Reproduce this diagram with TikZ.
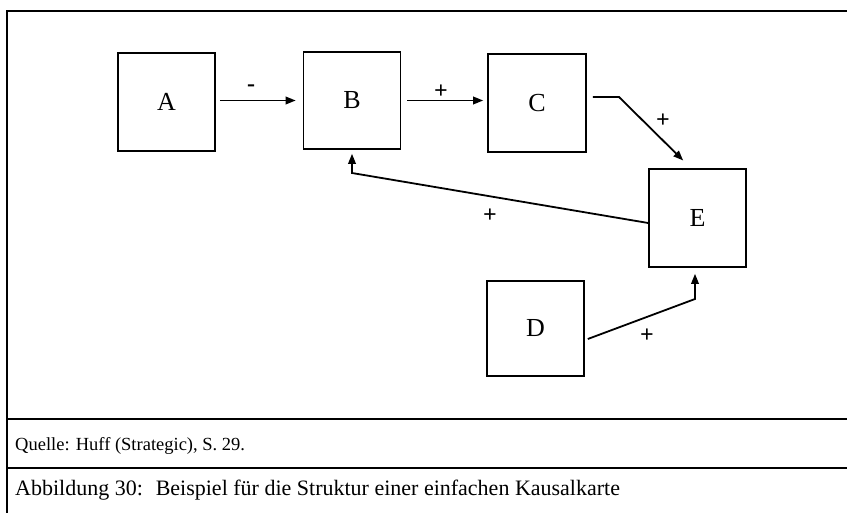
\documentclass[tikz,border=0pt]{standalone}
\usepackage{fontspec}
\setmainfont{Liberation Serif}
\usetikzlibrary{%
  arrows.meta,% Triangle tips
  positioning%
}

\begin{document}
\begin{tikzpicture}[x=1pt,y=-1pt,
box/.style={
	rectangle,
	draw=black,
	line width=1.6pt,
	minimum width=97pt,
	minimum height=97pt,
	inner sep=0pt,
	font=\fontsize{26}{28}\selectfont
	},link/.style={
	line width=1.8pt,
	-{Triangle[length=10pt,width=7.5pt]}
	},sign/.style={
	inner sep=0pt,
	font=\fontsize{24}{26}\selectfont\bfseries
	},framing/.style={
	line width=1.8pt
	},legend/.style={
	anchor=west,
	inner sep=0pt
	}
]

\useasboundingbox (0,0) rectangle (847,513);

% frame
\draw[framing] (847,11) -- (7,11) -- (7,513);
\draw[framing] (7,419) -- (847,419);
\draw[framing] (7,468) -- (847,468);

% boxes
\node (atomA) [box, minimum height=98pt] at (166.5,102) {A};
\node (atomB) [box] at (352,100.5) {B};
\node (atomC) [box, minimum width=98pt, minimum height=98pt] at (537,103) {C};
\node (atomE) [box, minimum height=98pt] at (697.5,218) {E};
\node (atomD) [box, minimum height=95pt] at (535.5,328.5) {D};

% bends
\coordinate (POSA) at (619,97);
\coordinate (POSB) at (352,173);
\coordinate (POSC) at (695,299);

\draw[link, shorten <=4pt, shorten >=7pt] (atomB.west -| atomA.east) -- (atomB.west);
\draw[link, shorten <=6pt, shorten >=4pt] (atomB.east) -- (atomB.east -| atomC.west);
\draw[link, shorten >=11pt] ([xshift=6pt, yshift=6pt]atomC.east) -- (POSA) -- ([xshift=-6.5pt]atomE.north);
\draw[link, shorten >=4pt] ([yshift=-5pt]atomE.west) -- (POSB) -- (atomB.south);
\draw[link, shorten >=6pt] ([xshift=3pt, yshift=-10.5pt]atomD.east) -- (POSC) -- ([xshift=-2.5pt]atomE.south);

% signs
\node[sign] (signAB) at (251,88) {-};
\node[sign] (signBC) at (441,92) {+};
\node[sign] (signCE) at (663,121) {+};
\node[sign] (signEB) at (490,216) {+};
\node[sign] (signDE) at (647,336) {+};

% source and caption
\node[legend, font=\fontsize{18.5}{20}\selectfont] (source) at (15,446) {Quelle: Huff (Strategic), S.~29.};
\node[legend, font=\fontsize{22}{24}\selectfont] (caption) at (15,490) {Abbildung 30:~ Beispiel für die Struktur einer einfachen Kausalkarte};

\end{tikzpicture}
\end{document}
